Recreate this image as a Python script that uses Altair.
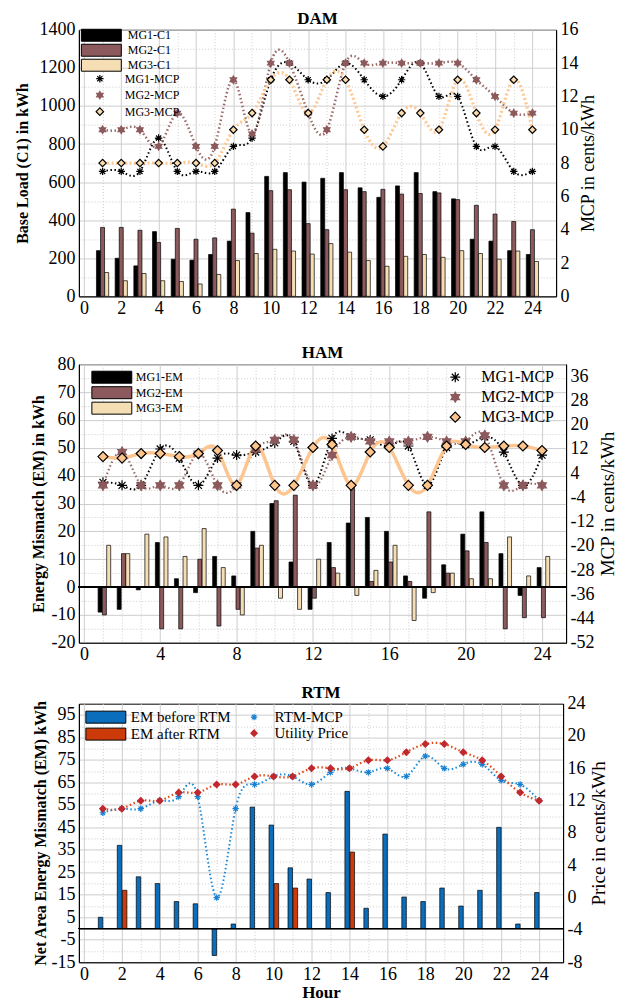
import altair as alt
import pandas as pd

FONT = "Liberation Serif"
hours = list(range(1, 25))

# ---------------- DAM ----------------
dam_bar_names = ["MG1-C1", "MG2-C1", "MG3-C1"]
dam_mg1_c1 = [240, 200, 160, 340, 195, 190, 220, 290, 440, 630, 650, 600, 620, 650, 570, 520, 580, 650, 550, 512, 300, 290, 240, 220]
dam_mg2_c1 = [362, 362, 347, 283, 357, 300, 307, 458, 332, 555, 560, 382, 350, 560, 550, 562, 537, 540, 543, 508, 478, 432, 393, 350]
dam_mg3_c1 = [125, 82, 120, 82, 78, 65, 115, 188, 225, 247, 238, 222, 277, 232, 188, 158, 210, 220, 205, 240, 225, 195, 238, 183]
dam_mcp_names = ["MG1-MCP", "MG2-MCP", "MG3-MCP"]
dam_mg1_mcp = [7.5, 7.5, 7.5, 9.5, 7.5, 7.5, 7.5, 9, 9.5, 13, 14, 13, 13, 14, 13, 12, 13, 14, 12, 12, 9, 9, 7.5, 7.5]
dam_mg2_mcp = [10, 10, 10, 9, 11, 9, 9, 13, 9.75, 14, 14, 11, 10, 14, 14, 14, 14, 14, 14, 14, 13, 12, 11, 11]
dam_mg3_mcp = [8, 8, 8, 8, 8, 8, 8, 10, 11, 13, 13, 11, 13, 13, 10, 9, 11, 11, 10, 13, 11, 10, 13, 10]

# ---------------- HAM ----------------
ham_bar_names = ["MG1-EM", "MG2-EM", "MG3-EM"]
ham_mg1_em = [-9, -8, -1, 16, 3, -2, 11, 4, 20, 30, 9, -8, 16, 23, 25, 20, 4, -4, 8, 19, 27, 12, -3, 7]
ham_mg2_em = [-10, 12, 0, -15, -15, 10, -14, -8, 14, 31, 33, -4, 7, 36, 2, 9, 2, 27, 5, 13, 16, -15, -11, -11]
ham_mg3_em = [15, 12, 19, 18, 11, 21, 7, -10, 15, -4, -8, 10, 5, -3, 6, 15, -12, -2, 5, 3, 3, 18, 4, 11]
ham_mcp_names = ["MG1-MCP", "MG2-MCP", "MG3-MCP"]
ham_mg1_mcp = [1, 0, 0, 12, 9, 0, 9, 10, 11, 14, 14.5, 0, 15.5, 16, 15, 13, 13, 0, 12.5, 13.5, 16, 11, 0, 10]
ham_mg2_mcp = [0, 11, 0, 0, 0, 10.5, 0, 0, 12, 15, 15, 0, 10, 16, 14.5, 14.5, 14.5, 16, 14.5, 14.5, 16.5, 0, 0, 0]
ham_mg3_mcp = [9.5, 9, 10.5, 10.5, 9.5, 10.5, 11.5, 0, 13, 0, 0, 12.5, 13.5, 0, 11, 12.5, 0, 0, 13, 13.5, 12.5, 13, 13, 11.5]

# ---------------- RTM ----------------
rtm_bar_names = ["EM before RTM", "EM after RTM"]
rtm_before = [5, 37, 23, 20, 12, 11, -12, 2, 54, 46, 27, 22, 16, 61, 9, 42, 14, 12, 18, 10, 17, 45, 2, 16]
rtm_after = [0, 17, 0, 0, 0, 0, 0, 0, 0, 20, 18, 0, 0, 34, 0, 0, 0, 0, 0, 0, 0, 0, 0, 0]
rtm_price_names = ["RTM-MCP", "Utility Price"]
rtm_mcp = [10.5, 11, 11, 12, 12.5, 12.5, 0, 11, 14, 15, 15, 14, 15.5, 16, 15.5, 16, 15, 17.5, 16, 16.5, 16.5, 14.5, 14, 12]
utility_price = [11, 11, 12, 12, 13, 13, 14, 14, 15, 15, 15, 16, 16, 16, 17, 17, 18, 19, 19, 18, 17, 15, 13, 12]

# ---------------- styles ----------------
BROWN = "#8c5a5c"
WHEAT = "#f5deb3"
BLUE = "#0a6ebd"
RED = "#cc3a0a"
ASTERISK = "M0,-1L0,1M-1,0L1,0M-0.7,-0.7L0.7,0.7M-0.7,0.7L0.7,-0.7"
HEXAGRAM = ("M0,-1L0.289,-0.5L0.866,-0.5L0.577,0L0.866,0.5L0.289,0.5L0,1"
            "L-0.289,0.5L-0.866,0.5L-0.577,0L-0.866,-0.5L-0.289,-0.5Z")
# wide swatch: with size 144 the path is scaled by 6 -> 40 x 12 px
RECT = "M-3.333,-1H3.333V1H-3.333Z"
GRID = "#cdcdcd"
DOT = [1, 2]


def long_df(names, arrays):
    rows = []
    for name, arr in zip(names, arrays):
        for h, v in zip(hours, arr):
            rows.append({"hour": h, "value": v, "series": name})
    return pd.DataFrame(rows)


def cond_dash(test):
    return {"condition": {"test": test, "value": []}, "value": DOT}


def x_axis(step, title=None, fs=18):
    kw = dict(
        values=list(range(0, 25)),
        labelExpr=f"datum.value % {step} === 0 ? '' + datum.value : ''",
        grid=True, gridColor=GRID, gridDash=cond_dash(f"datum.value % {step} === 0"),
        tickSize=0, labelFontSize=fs, labelPadding=3, labelFont=FONT, labelOverlap=False,
        domainColor="black", labelColor="black",
        title=title,
    )
    if title:
        kw.update(titleFont=FONT, titleFontSize=17, titleFontWeight="bold", titlePadding=1,
                  titleColor="black")
    return alt.Axis(**kw)


def left_axis(values, test, title, fs=18, tfs=16, tpad=8):
    return alt.Axis(
        values=values,
        labelExpr=f"({test}) ? '' + datum.value : ''",
        grid=True, gridColor=GRID, gridDash=cond_dash(test),
        tickSize=0, labelFontSize=fs, labelPadding=4, labelFont=FONT, labelColor="black",
        labelOverlap=False, domainColor="black",
        title=title, titleFont=FONT, titleFontSize=tfs, titleFontWeight="bold",
        titlePadding=tpad, titleColor="black",
    )


def right_axis(values, title, fs=18, tfs=19, tpad=4):
    return alt.Axis(
        orient="right", values=values,
        labelExpr="'' + datum.value",
        grid=False, tickSize=0, labelFontSize=fs, labelPadding=4, labelFont=FONT,
        labelColor="black", domainColor="black", labelOverlap=False,
        title=title, titleFont=FONT, titleFontSize=tfs, titleFontWeight="normal",
        titleAngle=270, titleBaseline="top", titlePadding=tpad, titleColor="black",
    )


def bar_legend(x, y, fs, rowpad, loff):
    return alt.Legend(
        title=None, orient="none", legendX=x, legendY=y, direction="vertical",
        symbolType=RECT, symbolSize=144, symbolStrokeColor="black", symbolStrokeWidth=1,
        labelFont=FONT, labelFontSize=fs, labelColor="black", rowPadding=rowpad,
        padding=0, labelOffset=loff,
    )


def point_legend(x, y, fs, rowpad, loff, size):
    return alt.Legend(
        title=None, orient="none", legendX=x, legendY=y, direction="vertical",
        symbolSize=size, symbolStrokeWidth=1.2,
        labelFont=FONT, labelFontSize=fs, labelColor="black", rowPadding=rowpad,
        padding=0, labelOffset=loff,
    )


def offset_expr(names, offsets):
    expr = str(offsets[-1])
    for n, o in reversed(list(zip(names[:-1], offsets[:-1]))):
        expr = f"datum.series == '{n}' ? {o} : ({expr})"
    return expr


def panel(bar_names, bar_arrays, bar_colors, bar_offsets, bar_width, bar_stroke,
          mcp_names, mcp_arrays, line_styles, point_fill, point_stroke, point_shape, point_size,
          xax, lax, ldom, rax, rdom, blegend, plegend, zero_line, w, h, title):
    xscale = alt.Scale(domain=[0, 25], nice=False, zero=False)
    yl = alt.Scale(domain=ldom, nice=False, zero=False)
    bdf = long_df(bar_names, bar_arrays)
    bars = alt.Chart(bdf).transform_calculate(
        xpos=f"datum.hour + ({offset_expr(bar_names, bar_offsets)})"
    ).mark_bar(width=bar_width, stroke=bar_stroke, strokeWidth=0.7).encode(
        x=alt.X("xpos:Q", scale=xscale, axis=xax),
        y=alt.Y("value:Q", scale=yl, axis=lax),
        y2=alt.datum(0),
        fill=alt.Fill("series:N", scale=alt.Scale(domain=bar_names, range=bar_colors),
                      legend=blegend, sort=bar_names),
    )
    left_layers = [bars]
    if zero_line:
        left_layers.append(
            alt.Chart(bdf).mark_rule(color="black", strokeWidth=1).encode(
                y=alt.YDatum(0, scale=yl, axis=lax)
            )
        )
    left = alt.layer(*left_layers)

    mdf = long_df(mcp_names, mcp_arrays)
    yr = alt.Scale(domain=rdom, nice=False, zero=False)
    right_layers = []
    for name, (color, dash, sw) in zip(mcp_names, line_styles):
        mk = dict(interpolate="natural", color=color, strokeWidth=sw)
        if dash:
            mk["strokeDash"] = dash
        right_layers.append(
            alt.Chart(mdf).transform_filter(alt.datum.series == name).mark_line(**mk).encode(
                x=alt.X("hour:Q", scale=xscale, axis=xax),
                y=alt.Y("value:Q", scale=yr, axis=rax),
            )
        )
    pts = alt.Chart(mdf).mark_point(filled=True, opacity=1, strokeWidth=1.2, size=point_size).encode(
        x=alt.X("hour:Q", scale=xscale, axis=xax),
        y=alt.Y("value:Q", scale=yr, axis=rax),
        shape=alt.Shape("series:N", scale=alt.Scale(domain=mcp_names, range=point_shape), legend=plegend),
        fill=alt.Fill("series:N", scale=alt.Scale(domain=mcp_names, range=point_fill), legend=plegend),
        stroke=alt.Stroke("series:N", scale=alt.Scale(domain=mcp_names, range=point_stroke), legend=plegend),
    )
    right_layers.append(pts)
    right = alt.layer(*right_layers)
    return alt.layer(left, right).resolve_scale(
        y="independent", fill="independent", stroke="independent", shape="independent"
    ).properties(
        width=w, height=h,
        title=alt.TitleParams(title, font=FONT, fontSize=17, fontWeight="bold", color="black",
                              anchor="middle", frame="group", offset=-7),
    )


dam = panel(
    dam_bar_names, [dam_mg1_c1, dam_mg2_c1, dam_mg3_c1], ["#000000", BROWN, WHEAT],
    [-0.22, 0, 0.22], 4, "black",
    dam_mcp_names, [dam_mg1_mcp, dam_mg2_mcp, dam_mg3_mcp],
    [("#000000", [1.5, 2.5], 2), ("#9a6a6a", [1.5, 2.5], 2.5), ("#ffc890", [2, 2.5], 3.2)],
    ["transparent", BROWN, "#f8dcae"], ["#000000", BROWN, "#000000"],
    [ASTERISK, HEXAGRAM, "diamond"], 55,
    x_axis(2), left_axis(list(range(0, 1401, 100)), "datum.value % 200 === 0", "Base Load (C1) in kWh"),
    [0, 1400], right_axis(list(range(0, 17, 2)), "MCP in cents/kWh", tfs=18, tpad=1), [0, 16],
    bar_legend(16, -1, 12, -3, 20), point_legend(15, 43, 12, 2.5, 19, 55), False,
    478, 267, "DAM",
)

ham = panel(
    ham_bar_names, [ham_mg1_em, ham_mg2_em, ham_mg3_em], ["#000000", BROWN, WHEAT],
    [-0.15, 0.075, 0.3], 4, "black",
    ham_mcp_names, [ham_mg1_mcp, ham_mg2_mcp, ham_mg3_mcp],
    [("#000000", [1.5, 2.5], 2), ("#9a6a6a", [1.5, 2.5], 2.2), ("#fdc590", None, 3.5)],
    ["transparent", BROWN, "#fdc48c"], ["#000000", BROWN, "#000000"],
    [ASTERISK, HEXAGRAM, "diamond"], 100,
    x_axis(4),
    left_axis(list(range(-20, 81, 5)), "datum.value % 10 === 0", "Energy Mismatch (EM) in kWh", tpad=4),
    [-20, 80], right_axis(list(range(-52, 37, 8)), "MCP in cents/kWh"), [-52, 40],
    bar_legend(26.5, 6.5, 12, -1.5, 17.5), point_legend(369, 5, 16, 4, 18, 100), True,
    488, 279, "HAM",
)

rtm = panel(
    rtm_bar_names, [rtm_before, rtm_after], [BLUE, RED],
    [-0.12, 0.15], 4.5, "black",
    rtm_price_names, [rtm_mcp, utility_price],
    [("#1a8ad8", [1.5, 2.5], 2), ("#e04a1a", [1.5, 2.5], 2.2)],
    ["#1a80d0", "#c0282d"], ["#1a80d0", "#c0282d"],
    [ASTERISK, "diamond"], 40,
    x_axis(2, "Hour"),
    left_axis(list(range(-15, 100, 5)), "abs(datum.value % 10) === 5",
              "Net Area Energy Mismatch (EM) kWh", tpad=2),
    [-15, 100], right_axis(list(range(-8, 25, 4)), "Price in cents/kWh"), [-8, 24],
    bar_legend(19.5, 6, 15, 0, 17.5), point_legend(168, 6, 15, 0, 13, 40), True,
    485, 259, "RTM",
)

top = alt.vconcat(dam, ham, spacing=25).resolve_scale(fill="independent", stroke="independent", shape="independent")
chart = alt.vconcat(top, rtm, spacing=18).resolve_scale(
    fill="independent", stroke="independent", shape="independent"
).properties(
    padding={"left": 6, "top": 0, "right": 0, "bottom": 0}
).configure(font=FONT).configure_view(stroke="black", strokeWidth=1)

chart.save("out.html", embed_options={"renderer": "svg", "actions": False})
